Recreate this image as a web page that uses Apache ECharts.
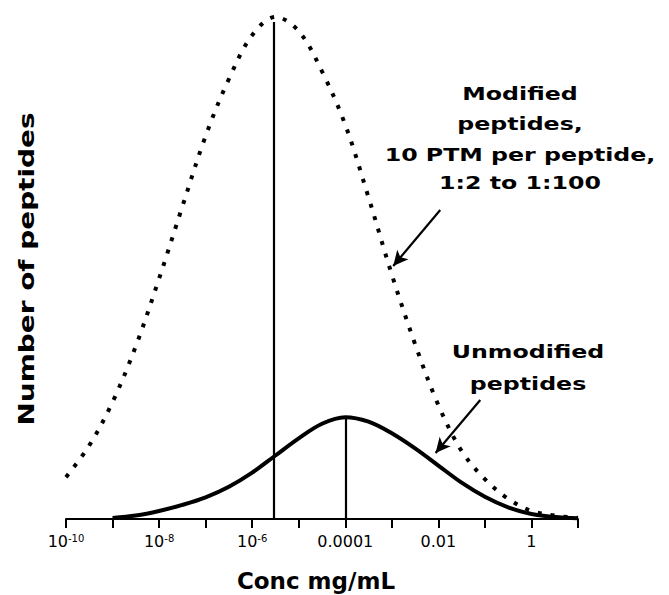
<!DOCTYPE html>
<html>
<head>
<meta charset="utf-8">
<script src="https://cdn.jsdelivr.net/npm/echarts@6/dist/echarts.min.js"></script>
<style>
  html, body { margin: 0; padding: 0; background: #fff; }
  #chart { width: 669px; height: 595px; }
</style>
</head>
<body>
<div id="chart"></div>
<script>
// log10 of concentration (mg/mL)
const concExp = [-10, -9.5, -9, -8.5, -8, -7.5, -7, -6.5, -6, -5.5, -5, -4.5, -4, -3.5, -3, -2.5, -2, -1.5, -1, -0.5, 0, 0.5, 1];
// Number of peptides (relative)
const modifiedPeptides = [8.3, 14.6, 23.2, 34.3, 47.7, 62.0, 76.0, 87.3, 96.0, 99.6, 96.8, 88.8, 78.2, 63.8, 48.5, 34.7, 22.6, 13.5, 7.9, 4.0, 1.6, 0.7, 0.2];
const unmodifiedPeptides = [null, null, 0.2, 0.7, 1.6, 2.8, 4.3, 6.4, 9.2, 12.6, 16.0, 18.9, 20.2, 19.3, 17.0, 14.0, 10.6, 7.2, 4.4, 2.3, 1.0, 0.4, 0.15];
// peak (mode) lines
const modifiedPeak = [-5.53, 98.6];
const unmodifiedPeak = [-4.0, 20.2];
// annotation arrows [from, to] in data units
const modifiedArrow = [[-1.96, 61.3], [-2.97, 50.2]];
const unmodifiedArrow = [[-1.10, 23.6], [-2.06, 13.1]];
// tick labels
const tickValues = [-10, -8, -6, -4, -2, 0];
const tickLabels = ['10{sup|-10}', '10{sup|-8}', '10{sup|-6}', '0.0001', '0.01', '1'];
const xAxisTitle = 'Conc mg/mL';
const yAxisTitle = 'Number of peptides';
const modifiedNote = ['Modified', 'peptides,', '10 PTM per peptide,', '1:2 to 1:100'];
const unmodifiedNote = ['Unmodified', 'peptides'];

const FONT = 'DejaVu Sans';
const chart = echarts.init(document.getElementById('chart'), null, { renderer: 'svg' });

function pairs(xs, ys) { return xs.map((x, i) => [x, ys[i]]); }

const noteStyle = { fontFamily: FONT, fontWeight: 'bold', fontSize: 18.5, fill: '#000', align: 'center', verticalAlign: 'middle' };
const graphics = [];
const modY = [92, 122, 153, 181];
modifiedNote.forEach((t, i) => graphics.push({ type: 'text', x: 520, y: modY[i] + 1, scaleX: 1.28, style: Object.assign({ text: t }, noteStyle) }));
const unY = [350, 382];
unmodifiedNote.forEach((t, i) => graphics.push({ type: 'text', x: 528, y: unY[i] + 1, scaleX: 1.28, style: Object.assign({ text: t }, noteStyle) }));
graphics.push({ type: 'text', x: 316, y: 581, style: { text: xAxisTitle, fontFamily: FONT, fontWeight: 'bold', fontSize: 23, fill: '#000', align: 'center', verticalAlign: 'middle' } });
graphics.push({ type: 'text', x: 27, y: 269, rotation: Math.PI / 2, scaleX: 1.27, style: { text: yAxisTitle, fontFamily: FONT, fontWeight: 'bold', fontSize: 22, fill: '#000', align: 'center', verticalAlign: 'middle' } });

chart.setOption({
  animation: false,
  backgroundColor: '#fff',
  grid: { left: 66, right: 91, top: 15, bottom: 76, containLabel: false, outerBoundsMode: 'none' },
  xAxis: {
    type: 'value', min: -10, max: 1, interval: 1,
    axisLine: { show: true, lineStyle: { color: '#000', width: 2 } },
    axisTick: { show: true, length: 9, lineStyle: { color: '#000', width: 2 } },
    splitLine: { show: false },
    axisLabel: {
      margin: 14, color: '#000', fontFamily: FONT, fontSize: 16,
      showMinLabel: true, showMaxLabel: true,
      formatter: function (v) { const i = tickValues.indexOf(Math.round(v * 1000) / 1000); return i >= 0 ? tickLabels[i] : ''; },
      rich: { sup: { fontFamily: FONT, fontSize: 10, verticalAlign: 'top', color: '#000', padding: [0, 0, 6, 0] } }
    }
  },
  yAxis: { type: 'value', min: 0, max: 100, show: false, splitLine: { show: false } },
  graphic: graphics,
  series: [
    {
      name: 'Modified peptides', type: 'line', data: pairs(concExp, modifiedPeptides),
      smooth: 0.35, showSymbol: false, silent: true,
      lineStyle: { color: '#000', width: 4, type: [4, 9], cap: 'butt' },
      markLine: {
        silent: true, animation: false, label: { show: false },
        data: [
          [{ coord: [modifiedPeak[0], 0], symbol: 'none' }, { coord: [modifiedPeak[0], modifiedPeak[1]], symbol: 'none' }],
          [{ coord: modifiedArrow[0], symbol: 'none' }, { coord: modifiedArrow[1], symbol: 'arrow', symbolSize: [11, 15] }]
        ],
        lineStyle: { color: '#000', width: 2.2, type: 'solid' }
      }
    },
    {
      name: 'Unmodified peptides', type: 'line', data: pairs(concExp, unmodifiedPeptides),
      smooth: 0.35, showSymbol: false, silent: true, connectNulls: false,
      lineStyle: { color: '#000', width: 4, type: 'solid' },
      markLine: {
        silent: true, animation: false, label: { show: false },
        data: [
          [{ coord: [unmodifiedPeak[0], 0], symbol: 'none' }, { coord: [unmodifiedPeak[0], unmodifiedPeak[1]], symbol: 'none' }],
          [{ coord: unmodifiedArrow[0], symbol: 'none' }, { coord: unmodifiedArrow[1], symbol: 'arrow', symbolSize: [11, 15] }]
        ],
        lineStyle: { color: '#000', width: 2.2, type: 'solid' }
      }
    }
  ]
});
</script>
</body>
</html>
